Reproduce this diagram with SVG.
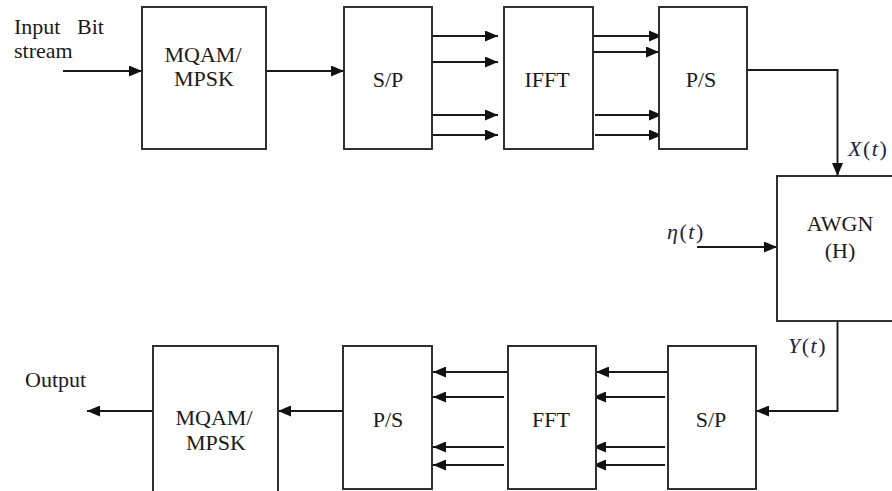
<svg xmlns="http://www.w3.org/2000/svg" width="892" height="491" viewBox="0 0 892 491">
  <style>
    .box { fill: #ffffff; stroke: #262626; stroke-width: 1.9; }
    .lbl { font-family: "Liberation Serif", "Times New Roman", serif; font-size: 22px; fill: #1a1a1a; text-anchor: middle; }
    .lbl-s { font-family: "Liberation Serif", "Times New Roman", serif; font-size: 22px; fill: #1a1a1a; }
    .math { font-family: "Liberation Serif", "Times New Roman", serif; font-size: 22px; letter-spacing: 1.5px; fill: #1c2340; }
    .wire { fill: none; stroke: #1a1a1a; stroke-width: 1.9; }
    .arr { marker-end: url(#ah); }
  </style>
  <defs>
    <marker id="ah" markerUnits="userSpaceOnUse" markerWidth="14" markerHeight="11" refX="13" refY="5.5" orient="auto">
      <path d="M0,0 L13,5.5 L0,11 z" fill="#111111"/>
    </marker>
  </defs>
  <rect width="892" height="491" fill="#ffffff"/>

  <g id="connectors">
    <path class="wire arr" d="M63,71 H142"/>
    <path class="wire arr" d="M266,71 H344"/>
    <path class="wire arr" d="M432,36 H498"/>
    <path class="wire arr" d="M432,62 H498"/>
    <path class="wire arr" d="M432,115 H498"/>
    <path class="wire arr" d="M432,135 H498"/>
    <path class="wire arr" d="M593,36 H662"/>
    <path class="wire arr" d="M593,52 H659"/>
    <path class="wire arr" d="M595,115 H662"/>
    <path class="wire arr" d="M595,135 H662"/>
    <path class="wire arr" d="M747,70 H837.5 V176"/>
    <path class="wire arr" d="M697,247 H777"/>
    <path class="wire arr" d="M837.5,321 V411 H756"/>
    <path class="wire arr" d="M668,372 H596"/>
    <path class="wire arr" d="M665,397 H593"/>
    <path class="wire arr" d="M665,447 H593"/>
    <path class="wire arr" d="M665,465 H593"/>
    <path class="wire arr" d="M508,372 H433"/>
    <path class="wire arr" d="M504,397 H433"/>
    <path class="wire arr" d="M504,447 H433"/>
    <path class="wire arr" d="M504,465 H433"/>
    <path class="wire arr" d="M343,411 H278"/>
    <path class="wire arr" d="M153,411 H87"/>
  </g>

  <g id="input-label">
    <text class="lbl-s" y="34"><tspan x="14">Input</tspan><tspan x="77">Bit</tspan></text>
    <text class="lbl-s" x="14" y="58">stream</text>
  </g>

  <g id="mod-tx">
    <rect class="box" x="142" y="7" width="124" height="142"/>
    <text class="lbl" x="203" y="62">MQAM/</text>
    <text class="lbl" x="204" y="86">MPSK</text>
  </g>

  <g id="sp-tx">
    <rect class="box" x="344" y="7" width="88" height="142"/>
    <text class="lbl" x="388" y="87">S/P</text>
  </g>

  <g id="ifft">
    <rect class="box" x="504" y="7" width="89" height="142"/>
    <text class="lbl" x="547" y="87">IFFT</text>
  </g>

  <g id="ps-tx">
    <rect class="box" x="659" y="7" width="88" height="142"/>
    <text class="lbl" x="701" y="87">P/S</text>
  </g>

  <g id="x-label">
    <text class="math" x="848" y="156"><tspan font-style="italic">X</tspan>(<tspan font-style="italic">t</tspan>)</text>
  </g>

  <g id="awgn">
    <rect class="box" x="777" y="176" width="130" height="145"/>
    <text class="lbl" x="840" y="231">AWGN</text>
    <text class="lbl" x="840" y="258">(H)</text>
  </g>

  <g id="eta-label">
    <text class="math" x="667" y="239"><tspan font-style="italic">η</tspan>(<tspan font-style="italic">t</tspan>)</text>
  </g>

  <g id="y-label">
    <text class="math" x="788" y="353"><tspan font-style="italic">Y</tspan>(<tspan font-style="italic">t</tspan>)</text>
  </g>

  <g id="sp-rx">
    <rect class="box" x="668" y="346" width="88" height="143"/>
    <text class="lbl" x="711" y="427">S/P</text>
  </g>

  <g id="fft">
    <rect class="box" x="508" y="346" width="88" height="143"/>
    <text class="lbl" x="551" y="427">FFT</text>
  </g>

  <g id="ps-rx">
    <rect class="box" x="343" y="346" width="89" height="143"/>
    <text class="lbl" x="388" y="427">P/S</text>
  </g>

  <g id="mod-rx">
    <rect class="box" x="153" y="346" width="125" height="160"/>
    <text class="lbl" x="214" y="425">MQAM/</text>
    <text class="lbl" x="216" y="450">MPSK</text>
  </g>

  <g id="output-label">
    <text class="lbl-s" x="25" y="387">Output</text>
  </g>
</svg>
